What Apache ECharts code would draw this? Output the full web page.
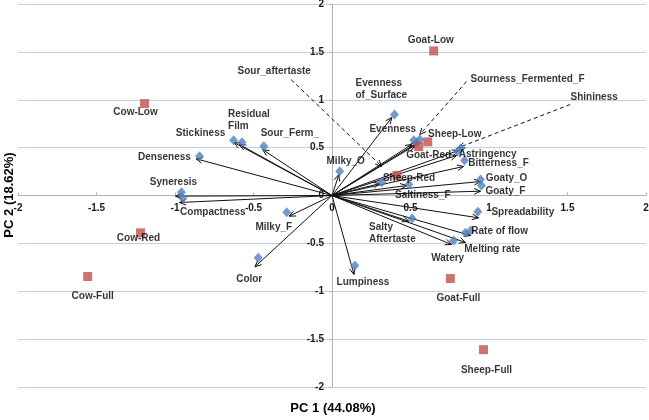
<!DOCTYPE html>
<html><head><meta charset="utf-8">
<script src="https://cdn.jsdelivr.net/npm/echarts@6/dist/echarts.min.js"></script>
<style>html,body{margin:0;padding:0;background:#fff}#c{width:649px;height:420px}</style>
</head><body><div id="c"></div>
<script>
// ---- data ----
const attrNames = ['Stickiness','Residual\nFilm','Sour_Ferm_','Denseness','Syneresis','Compactness','Milky_F','Color',
  'Milky_O','Evenness\nof_Surface','Evenness','Sour_aftertaste','Sourness_Fermented_F','Shininess','Astringency',
  'Bitterness_F','Goaty_O','Goaty_F','Spreadability','Rate of flow','Melting rate','Watery','Salty\nAftertaste',
  'Saltiness_F','(unlabelled)','Lumpiness'];
const attrX = [-0.627,-0.573,-0.434,-0.844,-0.959,-0.950,-0.288,-0.470,
  0.049,0.398,0.521,0.540,0.559,0.819,0.800,
  0.844,0.946,0.952,0.929,0.883,0.849,0.775,0.510,
  0.489,0.317,0.146];
const attrY = [0.578,0.557,0.515,0.410,0.034,-0.028,-0.174,-0.651,
  0.254,0.846,0.578,0.553,0.585,0.491,0.460,
  0.366,0.167,0.104,-0.170,-0.366,-0.390,-0.470,-0.240,
  0.115,0.139,-0.731];
const arrowTipX = [-0.624,-0.590,-0.442,-0.865,-0.997,-0.971,-0.273,-0.491,
  0.044,0.381,0.508,0.527,0.546,0.806,0.794,
  0.838,0.946,0.946,0.933,0.883,0.851,0.762,0.489,
  0.476,0.305,0.140];
const arrowTipY = [0.553,0.533,0.480,0.383,-0.007,-0.073,-0.216,-0.745,
  0.219,0.815,0.533,0.522,0.553,0.470,0.418,
  0.303,0.146,0.045,-0.233,-0.418,-0.491,-0.512,-0.268,
  0.104,0.125,-0.825];

const sampleNames = ['Goat-Low','Cow-Low','Sheep-Low','Goat-Red','Sheep-Red','Cow-Red','Cow-Full','Goat-Full','Sheep-Full'];
const sampleX = [0.648,-1.194,0.610,0.552,0.414,-1.220,-1.556,0.754,0.965];
const sampleY = [1.510,0.960,0.560,0.510,0.210,-0.390,-0.846,-0.867,-1.610];

const leaderNames = ['Sour_aftertaste','Sourness_Fermented_F','Shininess'];
const leaderFromX = [-0.260,0.857,1.517];
const leaderFromY = [1.210,1.190,0.950];
const leaderToX = [0.317,0.559,0.806];
const leaderToY = [0.303,0.637,0.500];

const axisMin = -2, axisMax = 2, axisStep = 0.5;
const xAxisTitle = 'PC 1 (44.08%)';
const yAxisTitle = 'PC 2 (18.62%)';

// ---- layout / label placement (style, pixels) ----
const GRID = {left: 18, right: 3, top: 4, bottom: 33};
const PLOT_W = 649 - GRID.left - GRID.right;
const PLOT_H = 420 - GRID.top - GRID.bottom;
const attrLabelStyle = {
  'Stickiness':[-33,-7,'center'], 'Residual\nFilm':[-14,-22,'left'], 'Sour_Ferm_':[26,-13,'center'],
  'Denseness':[-35,1,'center'], 'Syneresis':[-8,-10,'center'], 'Compactness':[30,14,'center'],
  'Milky_F':[-13,15,'center'], 'Color':[-9,21,'center'], 'Milky_O':[6,-10,'center'],
  'Evenness\nof_Surface':[-39,-25,'left'], 'Evenness':[-21,-11,'center'],
  'Astringency':[30,3,'center'], 'Bitterness_F':[34,3,'center'], 'Goaty_O':[26,-1,'center'],
  'Goaty_F':[24,6,'center'], 'Spreadability':[45,0,'center'], 'Rate of flow':[29,1,'center'],
  'Melting rate':[27,16,'center'], 'Watery':[-6,18,'center'], 'Salty\nAftertaste':[-43,15,'left'],
  'Saltiness_F':[14,11,'center'], 'Lumpiness':[8,17,'center']
};
const sampleLabelStyle = {
  'Goat-Low':[-3,-11], 'Cow-Low':[-9,9], 'Sheep-Low':[27,-8], 'Goat-Red':[10,9], 'Sheep-Red':[12,3],
  'Cow-Red':[-2,5], 'Cow-Full':[5,20], 'Goat-Full':[8,20], 'Sheep-Full':[3,21]
};
const leaderLabelStyle = {
  'Sour_aftertaste':[-17,-8], 'Sourness_Fermented_F':[61,-2], 'Shininess':[24,-7]
};

const FONT = 'Liberation Sans, Arial, sans-serif';
const TXT = '#000';

function head(px, py, ang, len) {
  const a1 = ang + Math.PI - 0.42, a2 = ang + Math.PI + 0.42;
  return [[px + len*Math.cos(a1), py + len*Math.sin(a1)], [px, py], [px + len*Math.cos(a2), py + len*Math.sin(a2)]];
}

const attrData = attrNames.map((n, i) => {
  const st = attrLabelStyle[n];
  return {
    name: n, value: [attrX[i], attrY[i]],
    label: st ? {show: true, offset: [st[0], st[1]], align: st[2]} : {show: false}
  };
});
const sampleData = sampleNames.map((n, i) => {
  const st = sampleLabelStyle[n];
  return {name: n, value: [sampleX[i], sampleY[i]], label: {show: true, offset: st}};
});
const leaderLabelData = leaderNames.map((n, i) => ({
  name: n, value: [leaderFromX[i], leaderFromY[i]],
  label: {show: true, offset: leaderLabelStyle[n]}
}));

const labelBase = {
  position: 'inside', formatter: '{b}', color: TXT, fontFamily: FONT, fontWeight: 'bold',
  fontSize: 10, lineHeight: 12
};

// both axes cross at zero, as in the reference
const yAxisShift = -PLOT_W * (0 - axisMin) / (axisMax - axisMin);
const xAxisShift = -PLOT_H * (0 - axisMin) / (axisMax - axisMin);

const chart = echarts.init(document.getElementById('c'), null, {renderer: 'canvas'});
chart.setOption({
  animation: false,
  backgroundColor: '#fff',
  grid: Object.assign({containLabel: false,
    outerBounds: {left: -100, top: -100, right: -100, bottom: -100}}, GRID),
  xAxis: {
    type: 'value', min: axisMin, max: axisMax, interval: axisStep,
    position: 'bottom', offset: xAxisShift,
    axisLine: {show: true, onZero: false, lineStyle: {color: '#b3b3b3', width: 1}},
    axisTick: {show: true, inside: true, length: 3, lineStyle: {color: '#b3b3b3'}},
    axisLabel: {color: '#1a1a1a', fontFamily: FONT, fontWeight: 'bold', fontSize: 10, margin: 8},
    splitLine: {show: false}
  },
  yAxis: {
    type: 'value', min: axisMin, max: axisMax, interval: axisStep,
    position: 'left', offset: yAxisShift,
    axisLine: {show: true, onZero: false, lineStyle: {color: '#b3b3b3', width: 1}},
    axisTick: {show: true, length: 3, lineStyle: {color: '#b3b3b3'}},
    axisLabel: {color: '#1a1a1a', fontFamily: FONT, fontWeight: 'bold', fontSize: 10, margin: 8},
    splitLine: {show: true, lineStyle: {color: '#c0cfe8', width: 1}}
  },
  graphic: [
    {type: 'text', x: 333, y: 408, style: {text: xAxisTitle, font: 'bold 13px ' + FONT, fill: TXT,
      align: 'center', verticalAlign: 'middle', textAlign: 'center', textVerticalAlign: 'middle'}},
    {type: 'text', x: 9, y: 195, rotation: Math.PI/2, style: {text: yAxisTitle, font: 'bold 13px ' + FONT, fill: TXT,
      align: 'center', verticalAlign: 'middle', textAlign: 'center', textVerticalAlign: 'middle'}}
  ],
  series: [
    {
      type: 'custom', name: 'vectors', z: 2, silent: true,
      data: arrowTipX.map((x, i) => [x, arrowTipY[i]]),
      encode: {x: 0, y: 1},
      renderItem: (params, api) => {
        const o = api.coord([0, 0]);
        const t = api.coord([api.value(0), api.value(1)]);
        const ang = Math.atan2(t[1]-o[1], t[0]-o[0]);
        return {type: 'group', children: [
          {type: 'line', shape: {x1: o[0], y1: o[1], x2: t[0], y2: t[1]}, style: {stroke: '#111', lineWidth: 1}},
          {type: 'polyline', shape: {points: head(t[0], t[1], ang, 7)}, style: {stroke: '#111', fill: null, lineWidth: 1}}
        ]};
      }
    },
    {
      type: 'custom', name: 'leaders', z: 2, silent: true,
      data: leaderFromX.map((x, i) => [x, leaderFromY[i], leaderToX[i], leaderToY[i]]),
      encode: {x: [0, 2], y: [1, 3]},
      renderItem: (params, api) => {
        const a = api.coord([api.value(0), api.value(1)]);
        const b = api.coord([api.value(2), api.value(3)]);
        const ang = Math.atan2(b[1]-a[1], b[0]-a[0]);
        return {type: 'group', children: [
          {type: 'line', shape: {x1: a[0], y1: a[1], x2: b[0], y2: b[1]}, style: {stroke: '#111', lineWidth: 1, lineDash: [4, 3]}},
          {type: 'polyline', shape: {points: head(b[0], b[1], ang, 7)}, style: {stroke: '#111', fill: null, lineWidth: 1}}
        ]};
      }
    },
    {
      type: 'scatter', name: 'attributes', z: 4, symbol: 'diamond', symbolSize: [9, 10],
      itemStyle: {color: '#4f81bd'}, label: labelBase, data: attrData
    },
    {
      type: 'scatter', name: 'samples', z: 5, symbol: 'rect', symbolSize: 9,
      itemStyle: {color: '#c0504d'}, label: Object.assign({}, labelBase, {align: 'center'}), data: sampleData
    },
    {
      type: 'scatter', name: 'leaderLabels', z: 5, symbolSize: 0, silent: true,
      label: Object.assign({}, labelBase, {align: 'center'}), data: leaderLabelData
    }
  ]
});
</script>
</body></html>
